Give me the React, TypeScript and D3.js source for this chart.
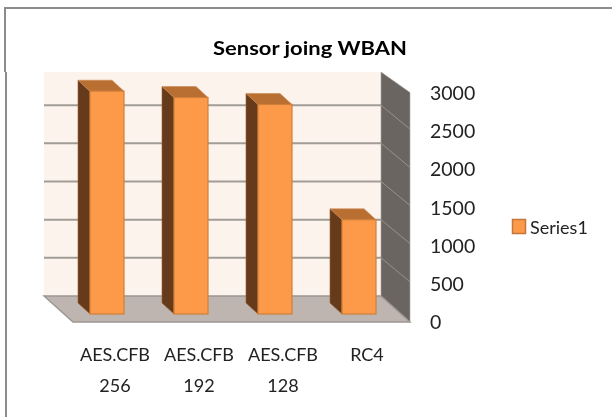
import React from "react";
import * as d3 from "d3";

const title = "Sensor joing WBAN";
const categories = ["AES.CFB 256", "AES.CFB 192", "AES.CFB 128", "RC4"];
const values = [2919, 2836, 2745, 1234];
const ticks = [0, 500, 1000, 1500, 2000, 2500, 3000];
const seriesName = "Series1";

const FONT = "Lato, 'Open Sans', sans-serif";
const backY = d3.scaleLinear().domain([0, 3000]).range([296, 67]);
const x = d3
  .scaleBand<string>()
  .domain(categories)
  .range([65, 401])
  .paddingInner(50 / 84)
  .paddingOuter(25 / 84);

const WALL_L = 44;
const WALL_R = 381;
const WALL_TOP = 72;
const FRONT_DX = 29;
const FRONT_DY = 26;
const BAR_FRONT_DY = 18;
const BAR_DX = 12;
const BAR_DY = 11;

export default function App() {
  const y0 = backY(0);
  const bw = x.bandwidth();
  return (
    <svg
      width={612}
      height={417}
      style={{ position: "absolute", left: 0, top: 0, background: "#fff" }}
    >
      <defs>
        <filter id="soft" x="-5%" y="-5%" width="110%" height="110%">
          <feGaussianBlur stdDeviation="0.45" />
        </filter>
      </defs>
      <g filter="url(#soft)">
        <path d="M5 72V8H612" fill="none" stroke="#8c8c8c" strokeWidth={2} />
        <path d="M6 72V417" fill="none" stroke="#8c8c8c" strokeWidth={2} />

        <rect x={WALL_L} y={WALL_TOP} width={WALL_R - WALL_L} height={y0 - WALL_TOP} fill="#fdf3ed" />
        <polygon
          points={`${WALL_R},${WALL_TOP} ${WALL_R + FRONT_DX},${WALL_TOP + 20.5} ${WALL_R + FRONT_DX},${y0 + FRONT_DY} ${WALL_R},${y0}`}
          fill="#6b6560"
          stroke="#a9a6a3"
          strokeWidth={0.6}
        />
        <polygon
          points={`${WALL_L},${y0} ${WALL_R},${y0} ${WALL_R + FRONT_DX},${y0 + FRONT_DY} ${WALL_L + FRONT_DX},${y0 + FRONT_DY}`}
          fill="#bfb5b0"
          stroke="#9a9793"
          strokeWidth={1.4}
        />
        {ticks
          .filter((t) => t > 0 && t < 3000)
          .map((t) => (
            <g key={t}>
              <line x1={WALL_L} x2={WALL_R} y1={backY(t)} y2={backY(t)} stroke="#a19c96" strokeWidth={2} />
              <line
                x1={WALL_R}
                x2={WALL_R + FRONT_DX}
                y1={backY(t)}
                y2={backY(t) + FRONT_DY - 2}
                stroke="#96928e"
                strokeWidth={1}
              />
            </g>
          ))}

        {categories.map((c, i) => {
          const left = x(c)!;
          const top = backY(values[i]) + BAR_FRONT_DY;
          const bottom = y0 + BAR_FRONT_DY;
          return (
            <g key={c}>
              <polygon
                points={`${left},${top} ${left - BAR_DX},${top - BAR_DY} ${left - BAR_DX},${bottom - BAR_DY} ${left},${bottom}`}
                fill="#653b1b"
                stroke="#9c6030"
                strokeWidth={0.6}
              />
              <polygon
                points={`${left},${top} ${left - BAR_DX},${top - BAR_DY} ${left + bw - BAR_DX},${top - BAR_DY} ${left + bw},${top}`}
                fill="#b96e31"
                stroke="#c98a55"
                strokeWidth={0.6}
              />
              <rect x={left} y={top} width={bw} height={bottom - top} fill="#fd9a4a" stroke="#d07f3a" strokeWidth={1.2} />
            </g>
          );
        })}

        <text x={310} y={55} textAnchor="middle" fontFamily={FONT} fontWeight={700} fontSize={19} fill="#000" textLength={194} lengthAdjust="spacingAndGlyphs">
          {title}
        </text>

        {ticks.map((t) => (
          <text
            key={t}
            x={430}
            y={backY(t) + FRONT_DY + 7}
            fontFamily={FONT}
            fontSize={19.5}
            fill="#222"
          >
            {t}
          </text>
        ))}

        {categories.map((c) => {
          const cx = x(c)! + bw / 2 + 8;
          const parts = c.split(" ");
          return (
            <g key={c}>
              {parts.map((p, j) => (
                <text key={p} x={cx} y={361 + j * 31} textAnchor="middle" fontFamily={FONT} fontSize={18} fill="#222">
                  {p}
                </text>
              ))}
            </g>
          );
        })}

        <rect x={512.5} y={219.5} width={13} height={14} fill="#fd9a4a" stroke="#c4763a" strokeWidth={1.5} />
        <text x={530} y={234} fontFamily={FONT} fontSize={18} fill="#222">
          {seriesName}
        </text>
      </g>
    </svg>
  );
}
